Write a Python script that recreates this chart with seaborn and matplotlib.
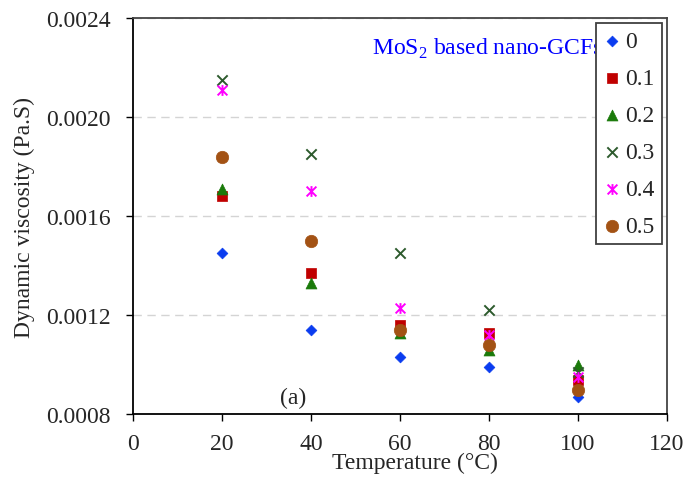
import pandas as pd
import matplotlib
matplotlib.use("Agg")
import matplotlib.pyplot as plt
from matplotlib.path import Path
from matplotlib.ticker import FormatStrFormatter, MultipleLocator
import seaborn as sns

# temperature (degC) and dynamic viscosity (Pa.S) for each MoS2 concentration
temperature = [20, 40, 60, 80, 100]
concentrations = ["0", "0.1", "0.2", "0.3", "0.4", "0.5"]
visc_0 = [0.00145, 0.00114, 0.00103, 0.00099, 0.00087]
visc_01 = [0.00168, 0.00137, 0.00116, 0.00113, 0.00094]
visc_02 = [0.00171, 0.00133, 0.00113, 0.00106, 0.00100]
visc_03 = [0.00215, 0.00185, 0.00145, 0.00122, 0.00097]
visc_04 = [0.00211, 0.00170, 0.00123, 0.00112, 0.00095]
visc_05 = [0.00184, 0.00150, 0.00114, 0.00108, 0.00090]

series = [visc_0, visc_01, visc_02, visc_03, visc_04, visc_05]
rows = []
for conc, vals in zip(concentrations, series):
    for t, v in zip(temperature, vals):
        rows.append({"conc": conc, "temp": t, "visc": v})
df = pd.DataFrame(rows)

# excel style "star" marker: x with a vertical bar
star = Path([(-0.5, -0.5), (0.5, 0.5), (-0.5, 0.5), (0.5, -0.5), (0, -0.55), (0, 0.55)],
            [Path.MOVETO, Path.LINETO, Path.MOVETO, Path.LINETO, Path.MOVETO, Path.LINETO])

styles = {
    "0":   dict(marker="D", color="#0a3cf0", s=30, edgecolor="#0a3cf0", linewidth=0.5),
    "0.1": dict(marker="s", color="#c00000", s=60, edgecolor="#c00000", linewidth=0.5),
    "0.2": dict(marker="^", color="#1a7a0a", s=62, edgecolor="#1a7a0a", linewidth=0.5),
    "0.3": dict(marker="x", color="#2d5a2d", s=55, linewidth=1.4),
    "0.4": dict(marker=star, color="#ff00ff", s=60, edgecolor="#ff00ff", linewidth=1.4),
    "0.5": dict(marker="o", color="#a35214", s=80, edgecolor="#a35214", linewidth=0.5),
}

sns.set_style("ticks")
plt.rcParams["font.family"] = ["Liberation Serif", "DejaVu Serif"]
plt.rcParams["mathtext.fontset"] = "custom"
plt.rcParams["mathtext.rm"] = "Liberation Serif"

fig = plt.figure(figsize=(6.88, 4.81), dpi=100)
ax = fig.add_axes([0.1933, 0.1362, 0.776, 0.8243])

for conc in concentrations:
    sub = df[df["conc"] == conc]
    sns.scatterplot(data=sub, x="temp", y="visc", ax=ax, label=conc, zorder=3, **styles[conc])

ax.set_xlim(0, 120)
ax.set_ylim(0.0008, 0.0024)
ax.xaxis.set_major_locator(MultipleLocator(20))
ax.yaxis.set_major_locator(MultipleLocator(0.0004))
ax.yaxis.set_major_formatter(FormatStrFormatter("%.4f"))
ax.grid(axis="y", color="#d4d4d4", linestyle=(0, (6, 4)), linewidth=1)
ax.set_axisbelow(True)

for side in ["left", "bottom"]:
    ax.spines[side].set_color("black")
    ax.spines[side].set_linewidth(1.3)
for side in ["top", "right"]:
    ax.spines[side].set_visible(True)
    ax.spines[side].set_color("#444444")
    ax.spines[side].set_linewidth(1.3)

ax.tick_params(axis="both", labelsize=17, direction="out", length=5, width=1, color="black")
ax.tick_params(axis="y", pad=11)
ax.tick_params(axis="x", pad=8)

ax.set_xlabel("Temperature (°C)", fontsize=17)
ax.set_ylabel("Dynamic viscosity (Pa.S)", fontsize=17, labelpad=8)
ax.xaxis.set_label_coords(0.528, -0.095)

ax.text(0.4476, 0.909, r"MoS$_\mathregular{2}$ based nano-GCFs", transform=ax.transAxes,
        color="blue", fontsize=17, ha="left", va="baseline")
ax.text(0.30, 0.044, "(a)", transform=ax.transAxes, fontsize=17, ha="center", va="center")

leg = ax.legend(loc="upper right", bbox_to_anchor=(0.990, 0.987), borderaxespad=0,
                fontsize=17, scatterpoints=1, handlelength=0.75, handletextpad=0.17,
                borderpad=0.3, labelspacing=0.66, fancybox=False, framealpha=1)
leg.get_frame().set_edgecolor("#404040")
leg.get_frame().set_linewidth(1.3)
leg.set_zorder(5)

fig.savefig("out.png", dpi=100)
